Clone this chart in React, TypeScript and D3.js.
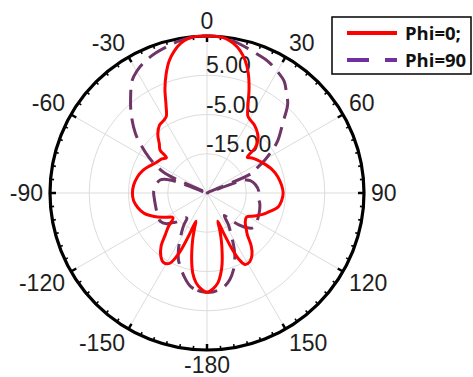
import React, { useRef, useEffect } from "react";
import * as d3 from "d3";

// Phi = 0 cut (red, solid): angle in degrees (0 = top, clockwise), gain in dB
const phi0Angles = [
    -176.5, -173, -170, -167.5, -165.5, -163, -160.5, -158.5, -157, -155.5, -154, -152, -148, -144, -139, -135,
    -131, -126, -120, -114, -108, -102, -96, -90, -84, -77, -71, -65, -59, -53, -49, -47.5, -44, -40, -35,
    -31, -28, -25, -22, -19, -16, -13, -10, -7, -4, 0, 4, 7, 10, 13, 16, 19, 22, 25, 28, 31, 35, 40, 44,
    47, 48.5, 52, 56, 62, 70, 77, 84, 90, 96, 101, 106, 111, 116, 121, 127, 132, 136, 140, 144, 148, 152,
    154.5, 156, 157.5, 159, 161, 163.5, 166, 168, 170.5, 173, 176.5, 180,
];
const phi0Values = [
    -0.5, -2, -4.2, -7, -9.5, -12.5, -15.5, -17.3, -13.5, -9, -6.5, -4.7, -4.1, -5, -7.2, -10,
    -12, -14.3, -12.6, -10.3, -8.2, -7, -6.2, -6, -6.2, -6.8, -7.6, -8.8, -9.9, -10.6, -11.3, -8.8, -7.5, -5.5, -3.9,
    -3.5, -2.9, -0.3, 3.6, 7, 10, 12.1, 13.7, 14.6, 15, 15, 15, 14.6, 13.7, 12.3, 10.2, 7.3, 3.6, -0.3, -2.8, -3.4, -3.9, -5, -6.3,
    -8.3, -11.3, -10.5, -9.8, -8.8, -7.4, -6.5, -5.9, -5.6, -5.9, -6.5, -8.2, -9.8, -11.6, -13.2, -12.8, -11.6, -10.2, -7.5, -5.5, -4.4, -4.4,
    -6.5, -9.5, -14, -17.3, -15, -12, -9, -6.5, -4, -2, -0.5, 0.3,
];

// Phi = 90 cut (purple, dashed)
const phi90Angles = [
    -176, -172, -169.7, -165, -160, -156.8, -153, -150, -146.8, -144, -141.3, -138, -134, -131, -127, -121.4,
    -112, -103, -96, -88.6, -82, -74.5, -70.5, -67.5, -65, -62, -58.3, -54, -50.3, -44, -38.6, -33.7, -30,
    -25.6, -20, -15, -10, -5, 0, 5, 10, 15, 20, 24.7, 30, 34.6, 38, 42.2, 47, 53.4, 57, 60.4, 63.5, 66.2,
    68.5, 71, 74, 80, 88, 94, 101, 108, 115, 121, 127, 131, 135, 139, 142.5, 146, 150.5, 154, 157.3, 161,
    165.2, 169, 172.4, 176, 180,
];
const phi90Values = [
    0.1, -0.4, -0.9, -2.8, -5.1, -6.5, -9, -11.3, -13.3, -15, -16.8, -16.5, -14.4, -13.5, -12, -11.1,
    -11.3, -11.5, -11.5, -11.4, -11.8, -12.6, -15, -25, -13.3, -10.5, -7.5, -4.2, -1.3, 2.8, 6.2, 9.4, 10.8,
    12, 13, 13.7, 14.4, 14.9, 15, 14.9, 14.3, 13.4, 12.6, 12, 10.8, 9.6, 7.8, 5.6, 1.5, -2.5, -5.3, -8.1, -10.8, -12.6,
    -25, -15, -13.5, -12.5, -11.8, -12, -11.3, -10.9, -10.6, -10.3, -10.3, -11.5, -13.5, -16, -17.8, -15.2, -12.3, -9.2, -6.6, -4.3,
    -2.2, -0.9, -0.2, 0.2, 0.3,
];

const angleTicks = [0, 30, 60, 90, 120, 150, 180, -150, -120, -90, -60, -30];
const angleTickLabels = ["0", "30", "60", "90", "120", "150", "-180", "-150", "-120", "-90", "-60", "-30"];
const ringValues = [-15, -5, 5];
const ringLabels = ["-15.00", "-5.00", "5.00"];
const radialDomain = [-25, 15];

const seriesNames = ["Phi=0;", "Phi=90"];

const PolarChart: React.FC = () => {
    const svgRef = useRef<SVGSVGElement | null>(null);

    useEffect(() => {
        if (!svgRef.current) return;
        const svg = d3.select(svgRef.current);
        svg.selectAll("*").remove();

        const width = 473;
        const height = 377;
        const cx = 207;
        const cy = 193;
        const R = 157;
        const rad = (d: number) => (d * Math.PI) / 180;

        const r = d3.scaleLinear().domain(radialDomain).range([0, R]).clamp(true);

        svg.append("rect").attr("width", width).attr("height", height).attr("fill", "#fff");

        const g = svg.append("g").attr("transform", `translate(${cx},${cy})`);

        // grid rings
        g.selectAll("circle.ring")
            .data(ringValues)
            .enter()
            .append("circle")
            .attr("class", "ring")
            .attr("r", (d) => r(d))
            .attr("fill", "none")
            .attr("stroke", "#dcdcdc")
            .attr("stroke-width", 1);

        // spokes
        g.selectAll("line.spoke")
            .data(d3.range(0, 360, 30))
            .enter()
            .append("line")
            .attr("class", "spoke")
            .attr("x1", 0)
            .attr("y1", 0)
            .attr("x2", (d) => R * Math.sin(rad(d)))
            .attr("y2", (d) => -R * Math.cos(rad(d)))
            .attr("stroke", "#dcdcdc")
            .attr("stroke-width", 1);

        // outer circle + ticks
        g.append("circle")
            .attr("r", R)
            .attr("fill", "none")
            .attr("stroke", "#000")
            .attr("stroke-width", 3.2);

        g.selectAll("line.tick")
            .data(d3.range(0, 360, 5))
            .enter()
            .append("line")
            .attr("class", "tick")
            .attr("x1", (d) => R * Math.sin(rad(d)))
            .attr("y1", (d) => -R * Math.cos(rad(d)))
            .attr("x2", (d) => (R - (d % 30 === 0 ? 6 : 3.5)) * Math.sin(rad(d)))
            .attr("y2", (d) => -(R - (d % 30 === 0 ? 6 : 3.5)) * Math.cos(rad(d)))
            .attr("stroke", "#000")
            .attr("stroke-width", (d) => (d % 30 === 0 ? 2.5 : 1.6));

        // angle labels
        const fontSize = 23;
        const capH = fontSize * 0.716;
        const r0 = R + 7;
        angleTicks.forEach((a, i) => {
            const s = Math.sin(rad(a));
            const c = Math.cos(rad(a));
            const px = r0 * s;
            const py = -r0 * c;
            const anchor = s > 0.1 ? "start" : s < -0.1 ? "end" : "middle";
            let by = py + capH / 2;
            if (c > 0.1) by = py;
            else if (c < -0.1) by = py + capH;
            g.append("text")
                .attr("x", px)
                .attr("y", by)
                .attr("text-anchor", anchor)
                .attr("font-family", "'Liberation Sans', Arial, sans-serif")
                .attr("font-size", fontSize)
                .attr("fill", "#1e1e1e")
                .text(angleTickLabels[i]);
        });

        // radial labels
        g.selectAll("text.rlabel")
            .data(ringValues)
            .enter()
            .append("text")
            .attr("class", "rlabel")
            .attr("x", -1)
            .attr("y", (d) => -r(d) - 2)
            .attr("font-family", "'Liberation Sans', Arial, sans-serif")
            .attr("font-size", fontSize)
            .attr("fill", "#1e1e1e")
            .text((d, i) => ringLabels[i]);

        const line = d3
            .lineRadial<[number, number]>()
            .angle((d) => rad(d[0]))
            .radius((d) => r(d[1]))
            .curve(d3.curveCatmullRomClosed.alpha(0.5));

        const phi90 = phi90Angles.map((a, i) => [a, phi90Values[i]] as [number, number]);
        const phi0 = phi0Angles.map((a, i) => [a, phi0Values[i]] as [number, number]);

        g.append("path")
            .attr("d", line(phi90) as string)
            .attr("fill", "none")
            .attr("stroke", "#6e3566")
            .attr("stroke-width", 3)
            .attr("stroke-dasharray", "20,9");

        g.append("path")
            .attr("d", line(phi0) as string)
            .attr("fill", "none")
            .attr("stroke", "#ff0000")
            .attr("stroke-width", 3);

        // legend
        const legend = svg.append("g").attr("transform", "translate(332,17)");
        legend
            .append("rect")
            .attr("width", 139)
            .attr("height", 57)
            .attr("fill", "#fff")
            .attr("stroke", "#000")
            .attr("stroke-width", 1.5);
        const legendColors = ["#ff0000", "#7030a0"];
        const legendDash = [null, "22,16"];
        seriesNames.forEach((name, i) => {
            const y = 16 + i * 27;
            legend
                .append("line")
                .attr("x1", 15)
                .attr("x2", 65)
                .attr("y1", y)
                .attr("y2", y)
                .attr("stroke", legendColors[i])
                .attr("stroke-width", 4)
                .attr("stroke-dasharray", legendDash[i]);
            legend
                .append("text")
                .attr("x", 73)
                .attr("y", y + 6.5)
                .attr("font-family", "'Open Sans', sans-serif")
                .attr("font-weight", "bold")
                .attr("font-size", 18.5)
                .attr("fill", "#111")
                .text(name);
        });
    }, []);

    return (
        <svg
            ref={svgRef}
            width={473}
            height={377}
            style={{ position: "absolute", left: 0, top: 0 }}
        ></svg>
    );
};

export default function App() {
    return <PolarChart />;
}
